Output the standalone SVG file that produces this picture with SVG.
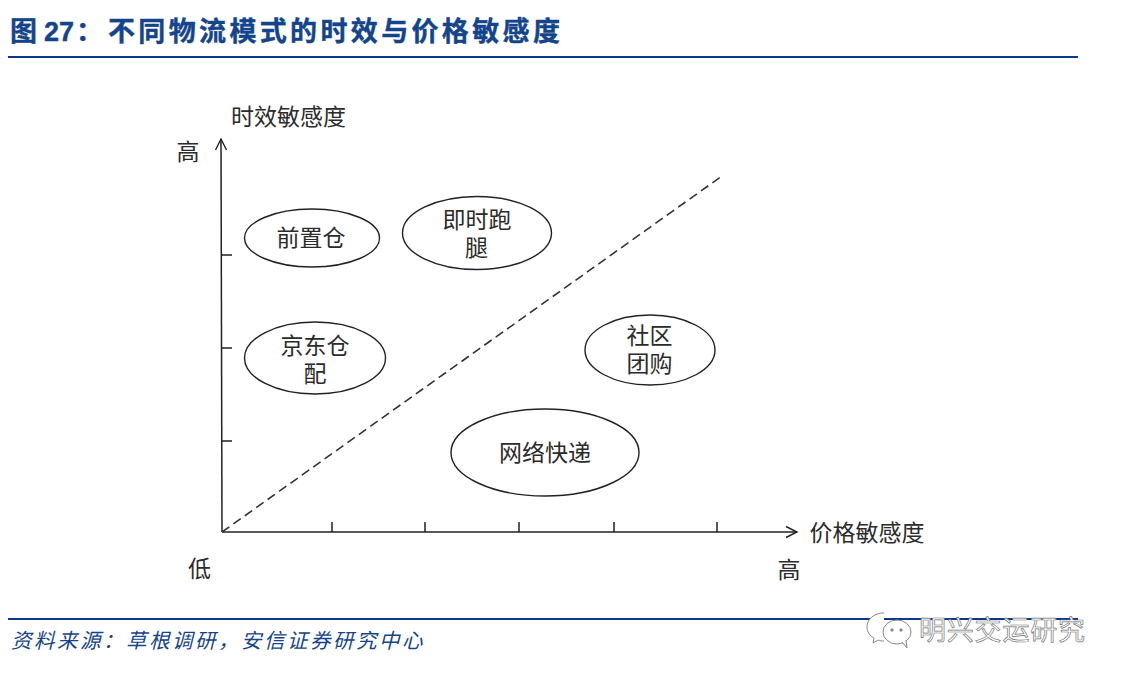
<svg xmlns="http://www.w3.org/2000/svg" width="1122" height="680" viewBox="0 0 1122 680">
<defs>
<style>
.t{font-family:"Liberation Sans","Noto Sans CJK SC","Noto Sans CJK JP",sans-serif;font-size:23px;fill:#2b2b2b;text-anchor:middle}
.e{fill:#fff;stroke:#222;stroke-width:1.4}
.ax{fill:none;stroke:#222;stroke-width:1.5}
.h{font-family:"Liberation Sans","Noto Sans CJK SC",sans-serif;font-size:27px;font-weight:700;fill:#14458c;stroke:#14458c;stroke-width:.4}
</style>
<marker id="a" markerWidth="14" markerHeight="14" refX="12" refY="7" orient="auto" markerUnits="userSpaceOnUse"><path d="M1 1.5L12 7L1 12.5" fill="none" stroke="#222" stroke-width="1.4"/></marker>
</defs>
<rect width="1122" height="680" fill="#fff"/>
<text class="h" x="10" y="41">图</text>
<text class="h" x="44" y="41">27</text>
<text class="h" x="76" y="41">：</text>
<text class="h" x="108" y="41" letter-spacing="3.35">不同物流模式的时效与价格敏感度</text>
<rect x="8" y="56" width="1070" height="2" fill="#0b3a8c"/>
<g id="connectors">
<path class="ax" d="M222 532L221 139" marker-end="url(#a)"/>
<path class="ax" d="M222 532H797" marker-end="url(#a)"/>
<path d="M222 532L722 176" fill="none" stroke="#333" stroke-width="1.6" stroke-dasharray="9 5"/>
<path class="ax" d="M221 255H232M222 348H232M222 441H232M332 532V522M425 532V522M519 532V522M614 532V522M717 532V522"/>
</g>
<g id="y-title"><text class="t" x="288.500" y="125">时效敏感度</text></g>
<g id="y-high"><text class="t" x="188" y="160">高</text></g>
<g id="x-title"><text class="t" x="867" y="541">价格敏感度</text></g>
<g id="low"><text class="t" x="199.500" y="577">低</text></g>
<g id="x-high"><text class="t" x="789" y="578">高</text></g>
<g id="n1"><ellipse class="e" cx="312" cy="238" rx="67.500" ry="29"/><text class="t" x="311" y="246">前置仓</text></g>
<g id="n2"><ellipse class="e" cx="477" cy="233" rx="74.500" ry="36.500"/><text class="t" x="477" y="227.500">即时跑</text><text class="t" x="476.500" y="255.500">腿</text></g>
<g id="n3"><ellipse class="e" cx="315" cy="358" rx="70.500" ry="36"/><text class="t" x="315" y="354">京东仓</text><text class="t" x="315" y="382">配</text></g>
<g id="n4"><ellipse class="e" cx="650" cy="350" rx="65" ry="35"/><text class="t" x="649.500" y="344">社区</text><text class="t" x="649.500" y="372">团购</text></g>
<g id="n5"><ellipse class="e" cx="545" cy="452.500" rx="94" ry="43.500"/><text class="t" x="545" y="460.500">网络快递</text></g>
<rect x="8" y="618" width="1070" height="2" fill="#0b3a8c"/>
<text x="11" y="648" font-family="'Liberation Sans','Noto Sans CJK SC',sans-serif" font-size="20.500" font-style="italic" fill="#14458c" letter-spacing="2.5">资料来源：草根调研，安信证券研究中心</text>
<g id="watermark" fill="#fff" stroke="#888" stroke-width="1">
<path d="M884 613c-10 0-17 6-17 14 0 5 3 9 7 11l-1 5 5-3c2 1 4 1 6 1"/>
<ellipse cx="897" cy="632" rx="14" ry="12"/>
<path d="M902 642l5 6-1-8"/>
<circle cx="892" cy="630" r="1.200" fill="#888"/><circle cx="901" cy="630" r="1.200" fill="#888"/>
</g>
<text x="919" y="640" font-family="'Liberation Sans','Noto Sans CJK SC',sans-serif" font-size="27" fill="#fff" stroke="#777" stroke-width=".7" letter-spacing=".8">明兴交运研究</text>
</svg>
